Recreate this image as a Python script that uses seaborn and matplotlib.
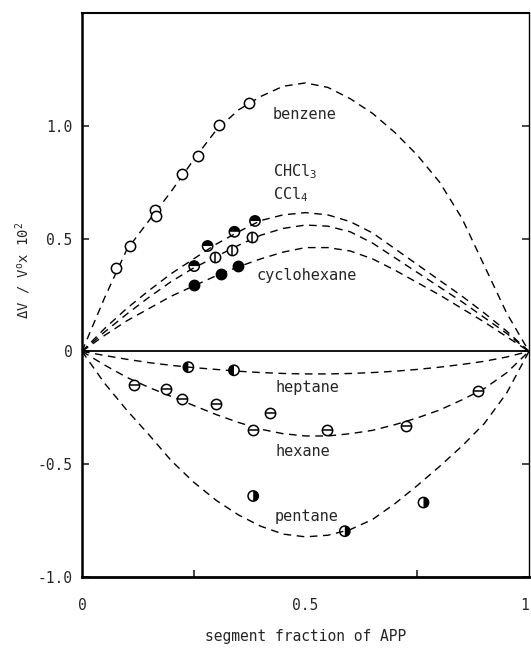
import matplotlib
matplotlib.use("Agg")
import matplotlib.pyplot as plt
import seaborn as sns
from matplotlib.markers import MarkerStyle

sns.set_theme(context="paper", style="ticks")
plt.rcParams['font.family'] = ['DejaVu Sans Mono', 'DejaVu Sans']
plt.rcParams['mathtext.fontset'] = 'custom'
plt.rcParams['mathtext.rm'] = 'DejaVu Sans Mono'
plt.rcParams['mathtext.it'] = 'DejaVu Sans Mono'

# ---- fitted curves ----
curve_x = [0, .05, .1, .15, .2, .25, .3, .35, .4, .45, .5,
           .55, .6, .65, .7, .75, .8, .85, .9, .95, 1]
benzene_curve = [0, 0.235, 0.45, 0.58, 0.71, 0.85, 0.98, 1.07, 1.13, 1.175, 1.19,
                 1.17, 1.12, 1.055, 0.97, 0.87, 0.75, 0.59, 0.38, 0.17, 0]
chcl3_curve = [0, 0.10, 0.19, 0.27, 0.345, 0.41, 0.475, 0.53, 0.58, 0.605, 0.615,
               0.605, 0.575, 0.525, 0.455, 0.385, 0.315, 0.245, 0.17, 0.09, 0]
ccl4_curve = [0, 0.085, 0.165, 0.24, 0.31, 0.37, 0.42, 0.47, 0.515, 0.545, 0.56,
              0.555, 0.53, 0.48, 0.415, 0.35, 0.285, 0.22, 0.15, 0.08, 0]
cyclohexane_curve = [0, 0.07, 0.135, 0.19, 0.245, 0.29, 0.335, 0.375, 0.41, 0.44, 0.46,
                     0.46, 0.445, 0.41, 0.36, 0.305, 0.25, 0.19, 0.13, 0.065, 0]
heptane_curve = [0, -0.018, -0.035, -0.05, -0.062, -0.072, -0.08, -0.088, -0.094, -0.098, -0.10,
                 -0.10, -0.098, -0.094, -0.088, -0.08, -0.07, -0.058, -0.044, -0.025, 0]
hexane_curve = [0, -0.06, -0.115, -0.16, -0.20, -0.24, -0.28, -0.315, -0.345, -0.365, -0.375,
                -0.375, -0.365, -0.35, -0.325, -0.295, -0.26, -0.215, -0.165, -0.095, 0]
pentane_curve = [0, -0.14, -0.26, -0.37, -0.485, -0.58, -0.66, -0.725, -0.775, -0.81, -0.822,
                 -0.815, -0.79, -0.745, -0.675, -0.595, -0.51, -0.42, -0.32, -0.185, 0]

# ---- measured points ----
benzene_x = [0.075, 0.107, 0.163, 0.165, 0.223, 0.260, 0.306, 0.374]
benzene_y = [0.37, 0.467, 0.627, 0.60, 0.785, 0.864, 1.004, 1.10]
chcl3_x = [0.251, 0.281, 0.341, 0.387]
chcl3_y = [0.378, 0.467, 0.53, 0.578]
ccl4_x = [0.298, 0.336, 0.380]
ccl4_y = [0.419, 0.449, 0.507]
cyclohexane_x = [0.251, 0.310, 0.350]
cyclohexane_y = [0.293, 0.341, 0.378]
heptane_x = [0.238, 0.340]
heptane_y = [-0.07, -0.084]
hexane_x = [0.117, 0.188, 0.223, 0.300, 0.420, 0.382, 0.549, 0.724, 0.887]
hexane_y = [-0.148, -0.166, -0.21, -0.234, -0.274, -0.348, -0.348, -0.333, -0.175]
pentane_x = [0.383, 0.588, 0.764]
pentane_y = [-0.641, -0.797, -0.67]

x_ticks = [0, 0.5, 1]
x_ticklabels = ["0", "0.5", "1"]
y_ticks = [-1.0, -0.5, 0, 0.5, 1.0]
y_ticklabels = ["-1.0", "-0.5", "0", "0.5", "1.0"]

fig = plt.figure(figsize=(5.31, 6.51), dpi=100)
ax = fig.add_axes([0.1544, 0.1137, 0.8418, 0.8664])

dash = (0, (5.5, 4))
for vals in [benzene_curve, chcl3_curve, ccl4_curve, cyclohexane_curve,
             heptane_curve, hexane_curve, pentane_curve]:
    sns.lineplot(x=curve_x, y=vals, ax=ax, color="black", linewidth=1.0,
                 linestyle=dash, estimator=None, sort=False)

ax.axhline(0, color="black", linewidth=1.3, zorder=2)

S = 55
LW = 1.1
def open_circles(xs, ys):
    sns.scatterplot(x=xs, y=ys, ax=ax, marker="o", s=S, color="black",
                    facecolor="white", edgecolor="black", linewidth=LW, zorder=4)

def half(xs, ys, fs):
    sns.scatterplot(x=xs, y=ys, ax=ax, marker=MarkerStyle("o", fillstyle=fs), s=S,
                    color="black", facecolor="black", edgecolor="none", linewidth=0, zorder=5)
    sns.scatterplot(x=xs, y=ys, ax=ax, marker="o", s=S, color="black",
                    facecolor="none", edgecolor="black", linewidth=LW, zorder=6)

def barred(xs, ys, m):
    open_circles(xs, ys)
    sns.scatterplot(x=xs, y=ys, ax=ax, marker=m, s=S, color="black",
                    linewidth=LW, zorder=6)

open_circles(benzene_x, benzene_y)
half(chcl3_x, chcl3_y, "top")
barred(ccl4_x, ccl4_y, "|")
sns.scatterplot(x=cyclohexane_x, y=cyclohexane_y, ax=ax, marker="o", s=S,
                color="black", edgecolor="black", linewidth=LW, zorder=4)
half(heptane_x, heptane_y, "left")
barred(hexane_x, hexane_y, "_")
half(pentane_x, pentane_y, "right")

fs = 11
ax.text(0.427, 1.05, "benzene", fontsize=fs, va="center", ha="left")
ax.text(0.427, 0.795, r"CHCl$_3$", fontsize=fs, va="center", ha="left")
ax.text(0.427, 0.695, r"CCl$_4$", fontsize=fs, va="center", ha="left")
ax.text(0.39, 0.338, "cyclohexane", fontsize=fs, va="center", ha="left")
ax.text(0.432, -0.16, "heptane", fontsize=fs, va="center", ha="left")
ax.text(0.432, -0.444, "hexane", fontsize=fs, va="center", ha="left")
ax.text(0.43, -0.733, "pentane", fontsize=fs, va="center", ha="left")

ax.set_xlim(0, 1)
ax.set_ylim(-1.0, 1.5)
ax.set_xticks(x_ticks)
ax.set_xticklabels(x_ticklabels, fontsize=10.5)
ax.get_xticklabels()[-1].set_horizontalalignment("right")
ax.set_xticks([0.25, 0.5, 0.75], minor=True)
ax.set_yticks(y_ticks)
ax.set_yticklabels(y_ticklabels, fontsize=10.5)
ax.tick_params(axis="x", which="major", length=0, pad=15, bottom=True)
ax.tick_params(axis="x", which="minor", direction="in", length=5, width=1.2, bottom=True)
ax.tick_params(axis="y", which="major", direction="in", length=5, width=1.2,
               left=True, right=True, labelright=False, pad=7)
ax.tick_params(axis="y", which="minor", left=False, right=False)

ax.set_xlabel("segment fraction of APP", fontsize=10.5)
ax.xaxis.set_label_coords(0.5, -0.093)
ax.set_ylabel(r"ΔV / V$^{\mathrm{o}}$x 10$^{2}$", fontsize=10)
ax.yaxis.set_label_coords(-0.11, 0.544)

for side, lw in [("left", 1.8), ("bottom", 2.0), ("top", 1.5), ("right", 1.0)]:
    ax.spines[side].set_linewidth(lw)
    ax.spines[side].set_color("black")

fig.savefig("out.png", dpi=100, facecolor="white")
